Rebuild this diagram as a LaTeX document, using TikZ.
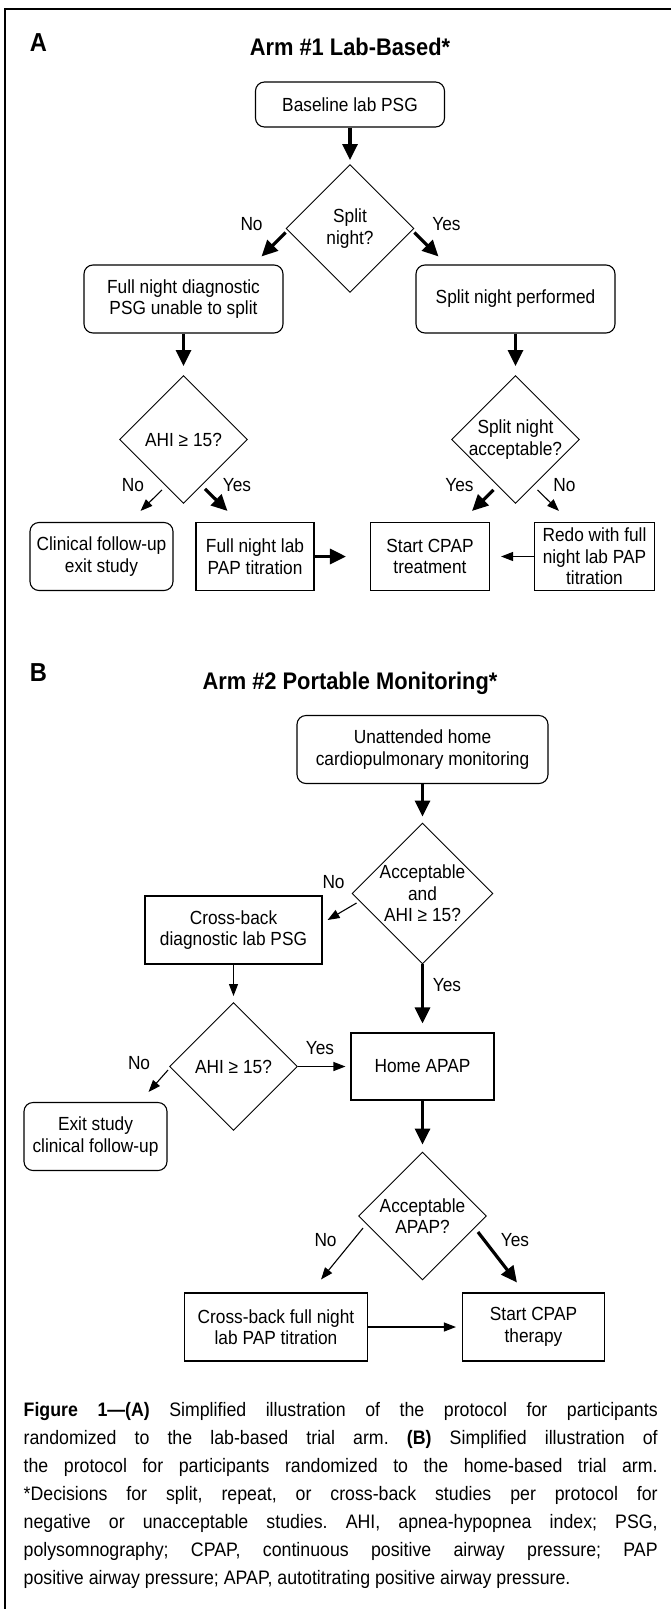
\documentclass[tikz,border=0pt]{standalone}
\usepackage{fontspec}
\setmainfont{Liberation Sans}[FakeStretch=0.91]
\usepackage{tikz}
\usetikzlibrary{arrows.meta,positioning,shapes.geometric,calc}
\newcommand\boxfont{\fontsize{19}{21.5}\selectfont}
\frenchspacing

\begin{document}
\begin{tikzpicture}[
			node distance=120pt and 120pt, on grid,
			proc/.style={draw,line width=1.1pt,rectangle,minimum height=68pt,inner sep=2pt,align=center,font=\boxfont},
			term/.style={proc,rounded corners=9pt},
			dec/.style={draw,line width=0.9pt,diamond,aspect=1,minimum width=128pt,minimum height=128pt,inner sep=-2pt,align=center,font=\boxfont},
			lbl/.style={inner sep=0pt,font=\boxfont},
			ttl/.style={inner sep=0pt,font=\fontsize{24}{28}\selectfont\bfseries},
			pnl/.style={inner sep=0pt,font=\fontsize{26}{30}\selectfont\bfseries},
			thk/.style={-{Triangle[length=16pt,width=15pt]},line width=3.2pt},
			thn/.style={-{Triangle[length=12pt,width=9pt]},line width=1.1pt}
			]
			\useasboundingbox (0pt,0pt) rectangle (671pt,-1609pt);
			\draw[line width=1.3pt] (5pt,-1620pt) -- (5pt,-9pt) -- (690pt,-9pt);

			\node[pnl] (pa) at (38.5pt,-43pt) {A};
			\node[ttl] (ttla) at (350pt,-47pt) {Arm \#1 Lab-Based*};
			\node[term,minimum width=189pt,minimum height=45pt] (base) at (350pt,-104.5pt) {Baseline lab PSG};
			\node[dec] (split) [below=124pt of base] {Split\\night?};
			\node[term,minimum width=199pt] (fnd) [below left=70.5pt and 166.5pt of split] {Full night diagnostic\\PSG unable to split};
			\node[term,minimum width=199pt] (spp) [below right=70.5pt and 165.5pt of split] {Split night performed};
			\node[dec] (ahia) [below=140.5pt of fnd] {AHI ≥ 15?};
			\node[dec] (sacc) [below=140.5pt of spp] {Split night\\acceptable?};
			\node[term,minimum width=143pt] (clin) [below left=117pt and 82pt of ahia] {Clinical follow-up\\exit study};
			\node[proc,minimum width=118pt] (fnl) [below right=117pt and 71.5pt of ahia] {Full night lab\\PAP titration};
			\node[proc,minimum width=119pt] (cpapa) [below left=117pt and 85.5pt of sacc] {Start CPAP\\treatment};
			\node[proc,minimum width=120pt] (redo) [below right=117pt and 79pt of sacc] {Redo with full\\night lab PAP\\titration};

			\node[lbl] (nsplit) at ([xshift=-34pt,yshift=4.5pt]split.west) {No};
			\node[lbl] (ysplit) at ([xshift=32pt,yshift=4.5pt]split.east) {Yes};
			\node[lbl] (nahia) at ([xshift=-50.5pt,yshift=19pt]ahia.south) {No};
			\node[lbl] (yahia) at ([xshift=53.5pt,yshift=19pt]ahia.south) {Yes};
			\node[lbl] (ysacc) at ([xshift=-56pt,yshift=19pt]sacc.south) {Yes};
			\node[lbl] (nsacc) at ([xshift=49pt,yshift=19pt]sacc.south) {No};

			\draw[thk,shorten >=4pt] (base) -- (split);
			\draw[thk] ([yshift=-4pt]split.west) -- ([xshift=-22pt,yshift=8pt]fnd.north east);
			\draw[thk] ([yshift=-4pt]split.east) -- ([xshift=23pt,yshift=8pt]spp.north west);
			\draw[thk,shorten >=9pt] (fnd) -- (ahia);
			\draw[thk,shorten >=9pt] (spp) -- (sacc);
			\draw[thn] ([xshift=-21.5pt,yshift=14pt]ahia.south) -- ([xshift=-33pt,yshift=11pt]clin.north east);
			\draw[thk] ([xshift=21.5pt,yshift=15pt]ahia.south) -- ([xshift=32pt,yshift=11pt]fnl.north west);
			\draw[thk] ([xshift=-22pt,yshift=14pt]sacc.south) -- ([xshift=-18pt,yshift=11pt]cpapa.north east);
			\draw[thn] ([xshift=22pt,yshift=14pt]sacc.south) -- ([xshift=25pt,yshift=11pt]redo.north west);
			\draw[thk,shorten >=24pt] (fnl) -- (cpapa);
			\draw[thn,shorten >=11pt] (redo) -- (cpapa);

			\node[pnl] (pb) at (38.5pt,-673pt) {B};
			\node[ttl] (ttlb) at (350pt,-683pt) {Arm \#2 Portable Monitoring*};
			\node[term,minimum width=251pt] (unat) at (422.5pt,-749.5pt) {Unattended home\\cardiopulmonary monitoring};
			\node[dec,minimum width=141pt,minimum height=141pt] (acc) [below=144pt of unat] {Acceptable\\and\\AHI ≥ 15?};
			\node[proc,minimum width=177pt] (crossd) [below left=36.5pt and 189pt of acc] {Cross-back\\diagnostic lab PSG};
			\node[proc,minimum width=143pt,minimum height=67pt] (home) [below=173pt of acc] {Home APAP};
			\node[dec] (ahib) [below=136.5pt of crossd] {AHI ≥ 15?};
			\node[term,minimum width=143pt] (exit) [below left=70pt and 138pt of ahib] {Exit study\\clinical follow-up};
			\node[dec] (accap) [below=149.5pt of home] {Acceptable\\APAP?};
			\node[proc,minimum width=183pt] (crossf) [below left=111pt and 146.5pt of accap] {Cross-back full night\\lab PAP titration};
			\node[proc,minimum width=142pt] (cpapb) [below right=111pt and 111pt of accap] {Start CPAP\\therapy};

			\node[lbl] (nacc) at ([xshift=-18pt,yshift=11.5pt]acc.west) {No};
			\node[lbl] (yacc) at ([xshift=24.5pt,yshift=-21pt]acc.south) {Yes};
			\node[lbl] (yahib) at ([xshift=22pt,yshift=18.5pt]ahib.east) {Yes};
			\node[lbl] (nahib) at ([xshift=-30pt,yshift=3.5pt]ahib.west) {No};
			\node[lbl] (naccap) at ([xshift=-32.5pt,yshift=-24pt]accap.west) {No};
			\node[lbl] (yaccap) at ([xshift=28pt,yshift=-24pt]accap.east) {Yes};

			\draw[thk,shorten >=6pt] (unat) -- (acc);
			\draw[thn] ([xshift=5pt,yshift=-9.5pt]acc.west) -- ([xshift=5pt,yshift=10pt]crossd.east);
			\draw[thk,shorten >=9pt] (acc) -- (home);
			\draw[thn,shorten >=6pt] (crossd) -- (ahib);
			\draw[thn,shorten >=5pt] (ahib) -- (home);
			\draw[thn] ([xshift=-1pt,yshift=-3.5pt]ahib.west) -- ([xshift=-19pt,yshift=10pt]exit.north east);
			\draw[thk,shorten >=7pt] (home) -- (accap);
			\draw[thn] ([xshift=5pt,yshift=-12pt]accap.west) -- ([xshift=-47pt,yshift=13pt]crossf.north east);
			\draw[thk] ([xshift=-9pt,yshift=-16pt]accap.east) -- ([xshift=55pt,yshift=10pt]cpapb.north west);
			\draw[thn,shorten >=6pt] (crossf) -- (cpapb);

			\node[anchor=north west,inner sep=0pt,text width=634pt,align=justify,font=\fontsize{19.5}{28}\selectfont] (capt) at (23.5pt,-1402pt)
			{\textbf{Figure 1—(A)} Simplified illustration of the protocol for participants\linebreak
			randomized to the lab-based trial arm. \textbf{(B)} Simplified illustration of\linebreak
			the protocol for participants randomized to the home-based trial arm.\linebreak
			*Decisions for split, repeat, or cross-back studies per protocol for\linebreak
			negative or unacceptable studies. AHI, apnea-hypopnea index; PSG,\linebreak
			polysomnography; CPAP, continuous positive airway pressure; PAP\linebreak
			positive airway pressure; APAP, autotitrating positive airway pressure.};
		\end{tikzpicture}
\end{document}
